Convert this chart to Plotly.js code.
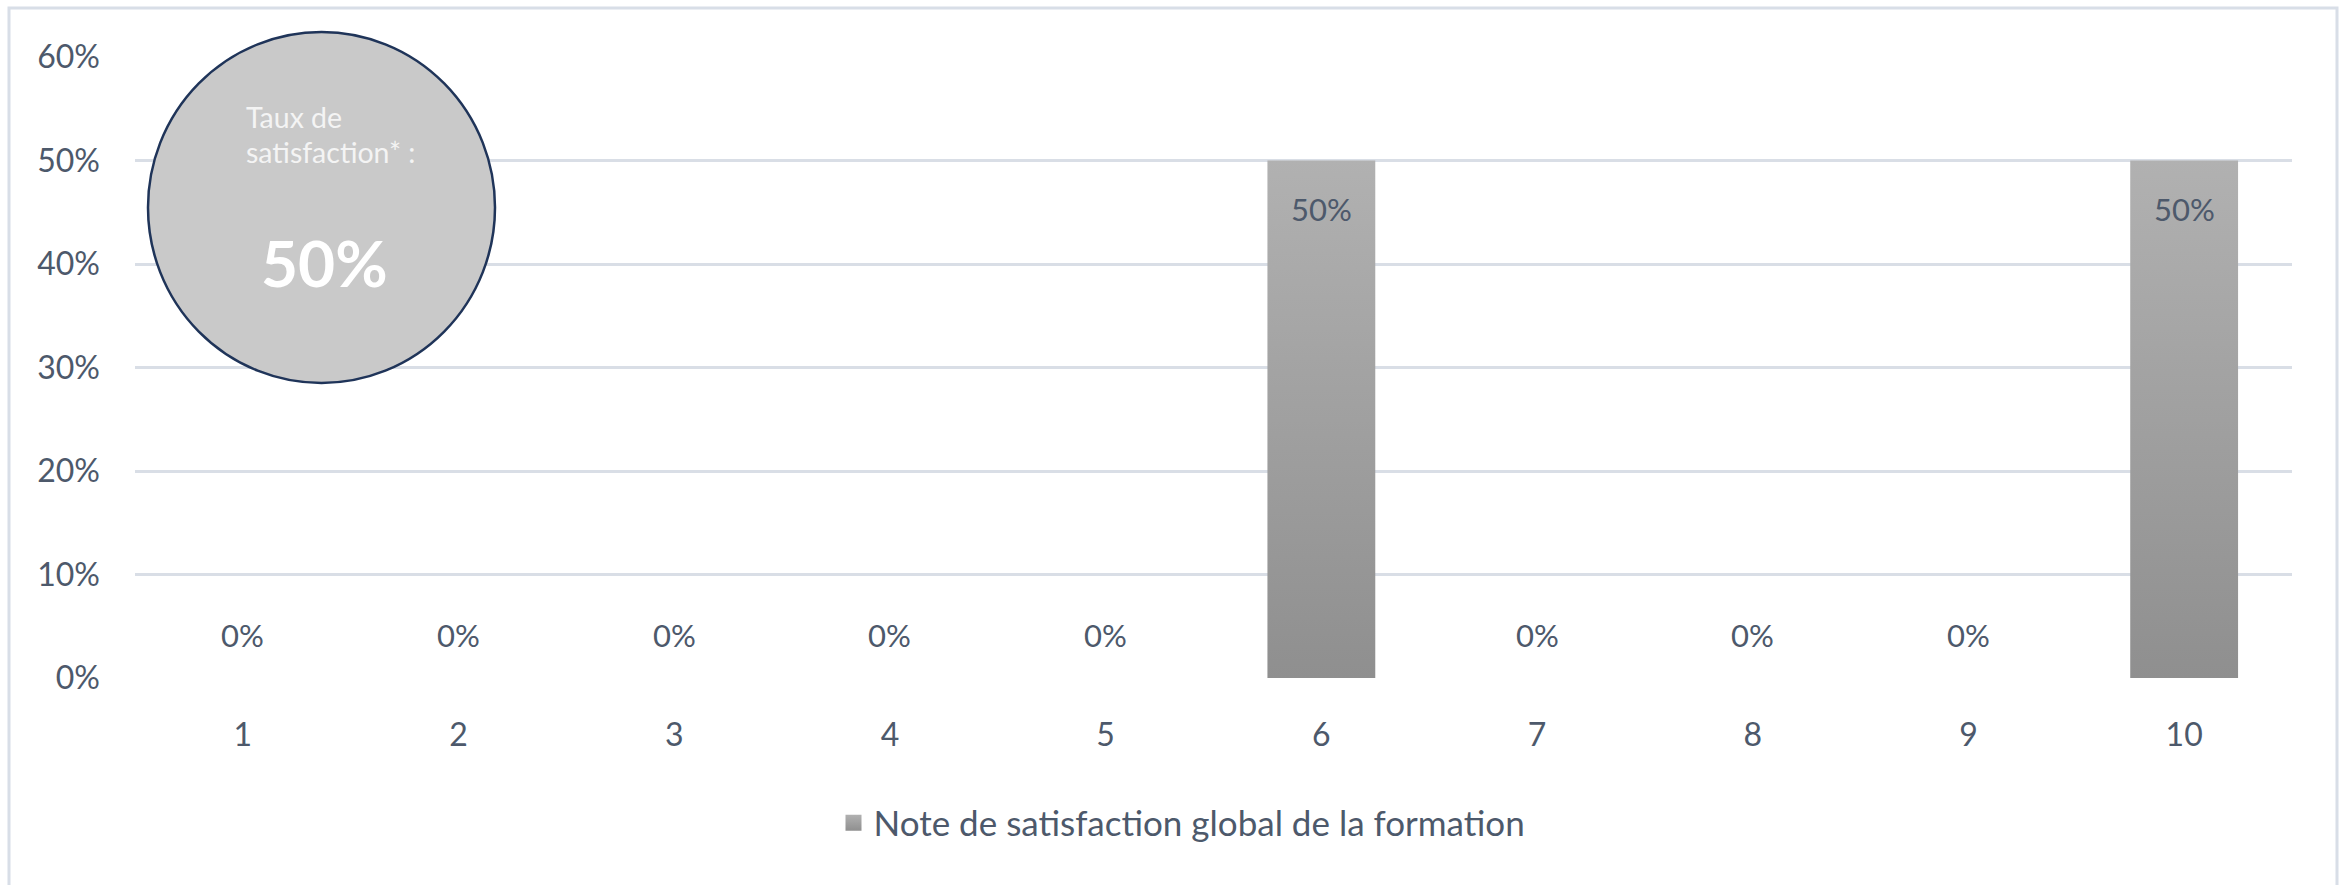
<!DOCTYPE html>
<html>
<head>
<meta charset="utf-8">
<script src="https://cdn.plot.ly/plotly-3.0.1.min.js"></script>
<style>
  html, body { margin: 0; padding: 0; background: #ffffff; }
  #chart { width: 2351px; height: 885px; }
</style>
</head>
<body>
<div id="chart"></div>
<script>
// ---- data ----
const categories = ['1', '2', '3', '4', '5', '6', '7', '8', '9', '10'];
const shares = [0, 0, 0, 0, 0, 0.5, 0, 0, 0, 0.5];
const seriesName = 'Note de satisfaction global de la formation';
const yTickValues = [0, 0.1, 0.2, 0.3, 0.4, 0.5, 0.6];
const yTickLabels = ['0%', '10%', '20%', '30%', '40%', '50%', '60%'];
const badgeTitleLines = ['Taux de', 'satisfaction* :'];
const badgeValue = '50%';

// ---- styles ----
const FONT = 'Lato, "Open Sans", sans-serif';
const TEXT = '#4d596b';
const GRID = '#d9dee6';

const pct = v => Math.round(v * 100) + '%';

const trace = {
  type: 'bar',
  x: categories,
  y: shares,
  name: seriesName,
  marker: { color: '#a0a0a0', line: { width: 0 } },
  hoverinfo: 'skip',
  showlegend: true
};

// data labels built from the data arrays (x given as category index)
const labelAnnotations = categories.map((c, i) => ({
  x: i, y: shares[i], xref: 'x', yref: 'y',
  text: pct(shares[i]), showarrow: false,
  xanchor: 'center', yanchor: 'middle',
  yshift: shares[i] > 0 ? -48 : 43,
  font: { family: FONT, size: 31, color: TEXT }
}));

const W = 2351, H = 885, L = 135, R = 59, T = 57, B = 207;
const pw = W - L - R, ph = H - T - B;
const px = x => (x - L) / pw;
const py = y => (H - B - y) / ph;

const badgeAnnotations = [
  { xref: 'paper', yref: 'paper', x: px(244), y: py(117), xanchor: 'left', yanchor: 'middle',
    text: badgeTitleLines[0], showarrow: false, font: { family: FONT, size: 28.5, color: '#f4f4f4' } },
  { xref: 'paper', yref: 'paper', x: px(244), y: py(152), xanchor: 'left', yanchor: 'middle',
    text: badgeTitleLines[1], showarrow: false, font: { family: FONT, size: 28.5, color: '#f4f4f4' } },
  { xref: 'paper', yref: 'paper', x: px(324), y: py(262), xanchor: 'center', yanchor: 'middle',
    text: '<b>' + badgeValue + '</b>', showarrow: false, font: { family: FONT, size: 64, color: '#ffffff' } }
];

const layout = {
  width: W, height: H,
  margin: { l: L, r: R, t: T, b: B },
  paper_bgcolor: '#ffffff',
  plot_bgcolor: '#ffffff',
  font: { family: FONT, color: TEXT, size: 32 },
  bargap: 0.5,
  xaxis: {
    type: 'category',
    range: [-0.5, categories.length - 0.5],
    showgrid: false, zeroline: false, showline: false,
    ticks: '', ticklabelstandoff: 35,
    tickfont: { family: FONT, size: 32, color: TEXT }
  },
  yaxis: {
    range: [0, 0.6],
    tickvals: yTickValues, ticktext: yTickLabels,
    showgrid: true, gridcolor: GRID, gridwidth: 3,
    zeroline: false, showline: false,
    ticks: '', ticklabelstandoff: 34,
    tickfont: { family: FONT, size: 32, color: TEXT }
  },
  showlegend: true,
  legend: {
    orientation: 'h', x: px(1182), xanchor: 'center', y: py(823), yanchor: 'middle',
    font: { family: FONT, size: 35, color: TEXT },
    bgcolor: 'rgba(0,0,0,0)'
  },
  shapes: [
    { type: 'rect', xref: 'paper', yref: 'paper', x0: px(9), x1: px(2337), y0: py(900), y1: py(8),
      line: { color: '#d8dee7', width: 3 }, fillcolor: 'rgba(0,0,0,0)', layer: 'below' },
    { type: 'circle', xref: 'paper', yref: 'paper', x0: px(148), x1: px(495), y0: py(383), y1: py(32),
      line: { color: '#1f3459', width: 2.5 }, fillcolor: '#c9c9c9', layer: 'above' }
  ],
  annotations: labelAnnotations.concat(badgeAnnotations)
};

Plotly.newPlot('chart', [trace], layout, { displayModeBar: false, staticPlot: true }).then(gd => {
  const svg = gd.querySelector('svg.main-svg');
  const ns = 'http://www.w3.org/2000/svg';
  let defs = svg.querySelector('defs');
  if (!defs) { defs = document.createElementNS(ns, 'defs'); svg.insertBefore(defs, svg.firstChild); }
  const grad = document.createElementNS(ns, 'linearGradient');
  grad.setAttribute('id', 'barGrad');
  grad.setAttribute('x1', '0'); grad.setAttribute('y1', '0');
  grad.setAttribute('x2', '0'); grad.setAttribute('y2', '1');
  [['0', '#b1b1b1'], ['1', '#8f8f8f']].forEach(([o, c]) => {
    const s = document.createElementNS(ns, 'stop');
    s.setAttribute('offset', o); s.setAttribute('stop-color', c);
    grad.appendChild(s);
  });
  defs.appendChild(grad);
  gd.querySelectorAll('g.trace.bars path').forEach(p => {
    p.style.fill = 'url(#barGrad)';
  });
  gd.querySelectorAll('.legendpoints path').forEach(p => {
    p.setAttribute('d', 'M8,8H-8V-8H8Z');
    p.style.fill = 'url(#barGrad)';
  });
});
</script>
</body>
</html>
